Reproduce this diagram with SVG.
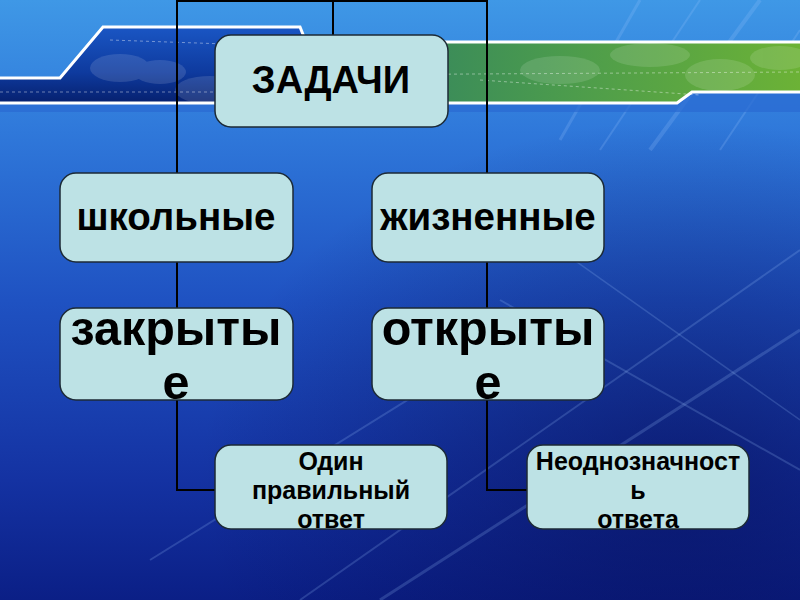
<svg xmlns="http://www.w3.org/2000/svg" width="800" height="600" viewBox="0 0 800 600">
  <defs>
    <linearGradient id="bg" x1="0" y1="0" x2="0" y2="1">
      <stop offset="0" stop-color="#3f98e6"/>
      <stop offset="0.22" stop-color="#2f78da"/>
      <stop offset="0.5" stop-color="#1f52c2"/>
      <stop offset="0.8" stop-color="#1432a2"/>
      <stop offset="1" stop-color="#0b1f86"/>
    </linearGradient>
    <radialGradient id="shade" cx="0.85" cy="0.8" r="0.6">
      <stop offset="0" stop-color="#050a50" stop-opacity="0.55"/>
      <stop offset="1" stop-color="#050a50" stop-opacity="0"/>
    </radialGradient>
    <linearGradient id="bandL" x1="0" y1="0" x2="0" y2="1">
      <stop offset="0" stop-color="#1a56c4"/>
      <stop offset="0.6" stop-color="#0e3a9e"/>
      <stop offset="1" stop-color="#06206e"/>
    </linearGradient>
    <linearGradient id="bandR" x1="0" y1="0" x2="1" y2="0">
      <stop offset="0" stop-color="#2a7c66"/>
      <stop offset="0.5" stop-color="#4a9a4e"/>
      <stop offset="1" stop-color="#6cb236"/>
    </linearGradient>
    <style>
      .box { fill: #bde2e5; stroke: #1c2a36; stroke-width: 1.5; }
      .t { font-family: "Liberation Sans", Arial, sans-serif; font-weight: bold; fill: #000; text-anchor: middle; }
      .s { font-size: 25px; }
      .conn { fill: none; stroke: #000; stroke-width: 2; }
      .streak { stroke: #9fc8ff; stroke-opacity: 0.2; fill: none; }
    </style>
  </defs>

  <g id="background">
    <rect width="800" height="600" fill="url(#bg)"/>
    <rect width="800" height="600" fill="url(#shade)"/>
    <g class="streak">
      <path d="M640 0 L560 140" stroke-width="3"/>
      <path d="M700 0 L600 150" stroke-width="2"/>
      <path d="M760 0 L650 150" stroke-width="4"/>
      <path d="M800 30 L720 150" stroke-width="2"/>
      <path d="M300 600 L800 250" stroke-width="2"/>
      <path d="M380 600 L800 330" stroke-width="3"/>
      <path d="M500 300 L800 470" stroke-width="2"/>
      <path d="M560 250 L800 420" stroke-width="1.5"/>
      <path d="M150 560 L520 330" stroke-width="2"/>
    </g>
    <path d="M0 78 L60 78 L103 27 L300 27 L306 42 L800 42 L800 92 L692 92 L677 103 L0 103 Z" fill="url(#bandL)"/>
    <path d="M306 42 L800 42 L800 92 L692 92 L677 103 L306 103 Z" fill="url(#bandR)"/>
    <path d="M0 103 L677 103 L692 92 L800 92 L800 112 L0 112 Z" fill="#2a6ad2" opacity="0.7"/>
    <g fill="#ffffff" opacity="0.12">
      <ellipse cx="120" cy="68" rx="30" ry="14"/>
      <ellipse cx="160" cy="72" rx="26" ry="12"/>
      <ellipse cx="210" cy="90" rx="35" ry="14"/>
      <ellipse cx="560" cy="70" rx="40" ry="14"/>
      <ellipse cx="650" cy="55" rx="40" ry="12"/>
      <ellipse cx="720" cy="75" rx="35" ry="16"/>
      <ellipse cx="780" cy="58" rx="30" ry="12"/>
    </g>
    <path d="M0 92 L300 92 M110 40 L400 50 M310 75 L800 72 M480 80 L700 95" stroke="#ffffff" stroke-opacity="0.4" stroke-width="1" stroke-dasharray="3 3" fill="none"/>
    <path d="M0 78 L60 78 L103 27 L300 27 L306 42 L800 42" stroke="#ffffff" stroke-width="3" fill="none"/>
    <path d="M0 103 L677 103 L692 92 L800 92" stroke="#ffffff" stroke-width="3" fill="none"/>
  </g>

  <g id="connectors">
    <path class="conn" d="M177 0 L177 490 L215 490"/>
    <path class="conn" d="M487 0 L487 490 L527 490"/>
    <path class="conn" d="M177 1 L487 1"/>
    <path class="conn" d="M333 0 L333 36"/>
  </g>

  <g id="node-zadachi">
    <rect class="box" x="215" y="35" width="233" height="92" rx="16"/>
    <text class="t" x="331" y="93" font-size="38">ЗАДАЧИ</text>
  </g>
  <g id="node-shkolnye">
    <rect class="box" x="60" y="173" width="233" height="89" rx="16"/>
    <text class="t" x="176" y="230" font-size="38.5">школьные</text>
  </g>
  <g id="node-zhiznennye">
    <rect class="box" x="372" y="173" width="232" height="89" rx="16"/>
    <text class="t" x="488" y="230" font-size="38.5">жизненные</text>
  </g>
  <g id="node-zakrytye">
    <rect class="box" x="60" y="308" width="233" height="92" rx="16"/>
    <text class="t" x="176" y="345" font-size="48.5">закрыты</text>
    <text class="t" x="176" y="399" font-size="48.5">е</text>
  </g>
  <g id="node-otkrytye">
    <rect class="box" x="372" y="308" width="232" height="92" rx="16"/>
    <text class="t" x="488" y="345" font-size="48.5">открыты</text>
    <text class="t" x="488" y="399" font-size="48.5">е</text>
  </g>
  <g id="node-odin">
    <rect class="box" x="215" y="445" width="232" height="84" rx="16"/>
    <text class="t s" x="331" y="470">Один</text>
    <text class="t s" x="331" y="499">правильный</text>
    <text class="t s" x="331" y="528">ответ</text>
  </g>
  <g id="node-neodnoznachnost">
    <rect class="box" x="527" y="445" width="222" height="84" rx="16"/>
    <text class="t s" x="638" y="470">Неоднозначност</text>
    <text class="t s" x="638" y="499">ь</text>
    <text class="t s" x="638" y="528">ответа</text>
  </g>
</svg>
